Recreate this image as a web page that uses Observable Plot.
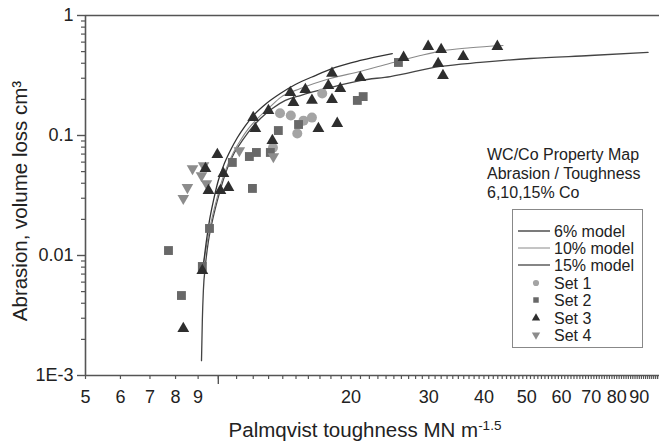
<!DOCTYPE html>
<html><head><meta charset="utf-8">
<script src="https://cdn.jsdelivr.net/npm/d3@7"></script>
<script src="https://cdn.jsdelivr.net/npm/@observablehq/plot@0.6"></script>
<style>
body{margin:0;background:#fff;}
#chart{position:relative;width:659px;height:446px;}
</style></head><body><div id="chart"></div>
<script>
// ---- data (Palmqvist toughness K, abrasion volume loss A) ----
const set1K = [13.3, 13.8, 14.6, 15.6, 16.3, 15.1, 17.2];
const set1A = [0.079, 0.153, 0.147, 0.133, 0.141, 0.104, 0.224];

const set2K = [7.71, 8.25, 9.2, 9.55, 10.76, 11.76, 12.2, 11.95, 13.12, 13.68, 15.2, 20.66, 21.3, 25.6];
const set2A = [0.0110, 0.00464, 0.0081, 0.0168, 0.0596, 0.0668, 0.0722, 0.0362, 0.0722, 0.110, 0.1235, 0.196, 0.211, 0.406];

const set3K = [8.33, 9.2, 9.35, 9.95, 9.5, 10.11, 10.54, 10.27, 12.0, 12.13, 12.99, 13.26, 14.56, 15.75, 14.8, 16.3, 17.76, 18.1, 18.9, 18.1, 20.98, 16.86, 18.6, 26.3, 29.9, 32.0, 31.5, 32.3, 35.9, 42.9];
const set3A = [0.00246, 0.0075, 0.0531, 0.0694, 0.0348, 0.0348, 0.0369, 0.0482, 0.141, 0.114, 0.1616, 0.0908, 0.228, 0.2416, 0.188, 0.196, 0.261, 0.329, 0.2464, 0.1995, 0.304, 0.114, 0.126, 0.447, 0.552, 0.521, 0.398, 0.316, 0.455, 0.552];

const set4K = [8.74, 9.26, 9.16, 9.40, 8.51, 8.33, 11.16, 13.33];
const set4A = [0.0531, 0.0562, 0.0464, 0.0398, 0.0369, 0.0299, 0.075, 0.0668];

const m6K = [9.25, 9.40, 9.55, 9.75, 10.0, 10.32, 10.65, 11.05, 11.52, 12.14, 12.85, 13.82, 14.95, 16.59, 18.42, 20.98, 24.8];
const m6A = [0.0083, 0.0133, 0.0196, 0.0287, 0.0422, 0.0584, 0.075, 0.0962, 0.121, 0.153, 0.185, 0.224, 0.266, 0.316, 0.369, 0.422, 0.482];

const m10K = [9.2, 9.45, 9.65, 9.90, 10.16, 10.49, 10.82, 11.22, 11.70, 12.33, 13.12, 13.82, 15.35, 17.94, 20.98, 24.54, 28.7, 31.85, 37.24, 44.2];
const m10A = [0.0075, 0.0133, 0.0196, 0.0287, 0.0406, 0.0562, 0.0722, 0.0909, 0.114, 0.141, 0.174, 0.207, 0.246, 0.2985, 0.3415, 0.40, 0.464, 0.505, 0.538, 0.562];

const m15K = [9.16, 9.2, 9.25, 9.35, 9.5, 9.70, 9.95, 10.22, 10.54, 10.88, 11.34, 11.82, 12.46, 13.26, 14.19, 15.35, 17.94, 20.98, 24.54, 31.85, 39.24, 50.9, 69.6, 94.2];
const m15A = [0.00133, 0.00287, 0.0051, 0.0083, 0.0133, 0.0196, 0.0287, 0.0406, 0.0562, 0.0722, 0.0909, 0.112, 0.1385, 0.168, 0.196, 0.2154, 0.251, 0.287, 0.310, 0.376, 0.406, 0.438, 0.464, 0.492];

const xTicksLabeled = [5, 6, 7, 8, 9, 20, 30, 40, 50, 60, 70, 80, 90];
const xTicksMajor = [10];
const yTicksMajor = [1, 0.1, 0.01, 0.001];
const yTickLabels = ["1", "0.1", "0.01", "1E-3"];
const yTicksMinor = [2,3,4,5,6,7,8,9].flatMap(m => [m*0.001, m*0.01, m*0.1]);

const modelNames = ["6% model", "10% model", "15% model"];
const setNames = ["Set 1", "Set 2", "Set 3", "Set 4"];
const annotation = ["WC/Co Property Map", "Abrasion / Toughness", "6,10,15% Co"];

// ---- build tables ----
const pts = (K, A) => K.map((k, i) => ({k, a: A[i]}));
const s1 = pts(set1K, set1A), s2 = pts(set2K, set2A), s3 = pts(set3K, set3A), s4 = pts(set4K, set4A);
const l6 = pts(m6K, m6A), l10 = pts(m10K, m10A), l15 = pts(m15K, m15A);

const FONT = '"Liberation Sans", Arial, Helvetica, sans-serif';
const AX = "#555";
const c1 = "#a4a4a4", c2 = "#686868", c3 = "#2e2e2e", c4 = "#8c8c8c";
const lc6 = "#333", lc10 = "#8a8a8a", lc15 = "#444";

const plot = Plot.plot({
  width: 659, height: 446,
  marginLeft: 85, marginRight: 0, marginTop: 15, marginBottom: 71,
  style: {fontFamily: FONT, fontSize: "18px", color: "#222", background: "#fff", overflow: "visible"},
  x: {type: "log", domain: [5, 100]},
  y: {type: "log", domain: [0.001, 1]},
  marks: [
    Plot.axisY({ticks: yTicksMinor, tickSize: 4, tickFormat: () => "", label: null, stroke: AX, strokeWidth: 1.2}),
    Plot.axisY({ticks: yTicksMajor, tickSize: 8, tickPadding: 4, fontSize: 18, tickFormat: d => yTickLabels[yTicksMajor.indexOf(d)], label: null, stroke: AX, strokeWidth: 1.4}),
    Plot.axisX({ticks: 100, tickSize: 4, tickPadding: 11, fontSize: 18,
      tickFormat: d => xTicksLabeled.includes(Math.round(d)) ? String(Math.round(d)) : "", label: null, stroke: AX, strokeWidth: 1.2}),
    Plot.axisX({ticks: xTicksMajor, tickSize: 9, tickFormat: () => "", label: null, stroke: AX, strokeWidth: 1.4}),
    Plot.ruleY([1], {stroke: AX, strokeWidth: 1.6}),
    Plot.ruleY([0.001], {stroke: AX, strokeWidth: 1.6}),
    Plot.ruleX([5], {stroke: AX, strokeWidth: 1.6}),
    Plot.line(l15, {x: "k", y: "a", stroke: lc15, strokeWidth: 1.3, curve: "monotone-x"}),
    Plot.line(l10, {x: "k", y: "a", stroke: lc10, strokeWidth: 1.1, curve: "monotone-x"}),
    Plot.line(l6, {x: "k", y: "a", stroke: lc6, strokeWidth: 1.3, curve: "monotone-x"}),
    Plot.dot(s1, {x: "k", y: "a", symbol: "circle", r: 5, fill: c1, stroke: "none"}),
    Plot.dot(s2, {x: "k", y: "a", symbol: "square", r: 5, fill: c2, stroke: "none"}),
    Plot.dot(s4, {x: "k", y: "a", symbol: "triangle", rotate: 180, r: 4.3, fill: c4, stroke: "none"}),
    Plot.dot(s3, {x: "k", y: "a", symbol: "triangle", r: 4.4, fill: c3, stroke: "none"})
  ]
});
document.getElementById("chart").appendChild(plot);

// ---- titles, annotation, legend ----
const svg = d3.select(plot);
const xt = svg.append("text").attr("x", 365).attr("y", 437).attr("text-anchor", "middle")
  .attr("fill", "#222").style("font-family", FONT).style("font-size", "20.5px");
xt.append("tspan").text("Palmqvist toughness MN m");
xt.append("tspan").attr("dy", "-0.5em").style("font-size", "13.5px").text("-1.5");

svg.append("text").attr("transform", "translate(27,201) rotate(-90)").attr("text-anchor", "middle")
  .attr("fill", "#222").style("font-family", FONT).style("font-size", "20.5px")
  .text("Abrasion, volume loss cm\u00B3");

annotation.forEach((t, i) => {
  svg.append("text").attr("x", 487).attr("y", 160 + i * 19).attr("fill", "#222").attr("text-anchor", "start")
    .style("font-family", FONT).style("font-size", "16px").text(t);
});

const lg = svg.append("g").attr("text-anchor", "start");
lg.append("rect").attr("x", 512.5).attr("y", 209.5).attr("width", 130).attr("height", 138)
  .attr("fill", "#fff").attr("stroke", "#888").attr("stroke-width", 1);
const baselines = [237, 254, 271, 289, 306, 324, 341];
const lineStyles = [[lc6, 1.3], [lc10, 1], [lc15, 1.3]];
modelNames.forEach((n, i) => {
  const y = baselines[i] - 6;
  lg.append("line").attr("x1", 518).attr("x2", 550).attr("y1", y).attr("y2", y)
    .attr("stroke", lineStyles[i][0]).attr("stroke-width", lineStyles[i][1]);
  lg.append("text").attr("x", 554).attr("y", baselines[i]).attr("fill", "#222")
    .style("font-family", FONT).style("font-size", "16px").text(n);
});
const legSyms = [[d3.symbolCircle, c1, 0], [d3.symbolSquare, c2, 0], [d3.symbolTriangle, c3, 0], [d3.symbolTriangle, c4, 180]];
setNames.forEach((n, i) => {
  const b = baselines[i + 3];
  const [sym, col, rot] = legSyms[i];
  lg.append("path").attr("d", d3.symbol(sym, 30)())
    .attr("transform", `translate(536,${b - 6}) rotate(${rot})`).attr("fill", col);
  lg.append("text").attr("x", 554).attr("y", b).attr("fill", "#222")
    .style("font-family", FONT).style("font-size", "16px").text(n);
});
</script></body></html>
